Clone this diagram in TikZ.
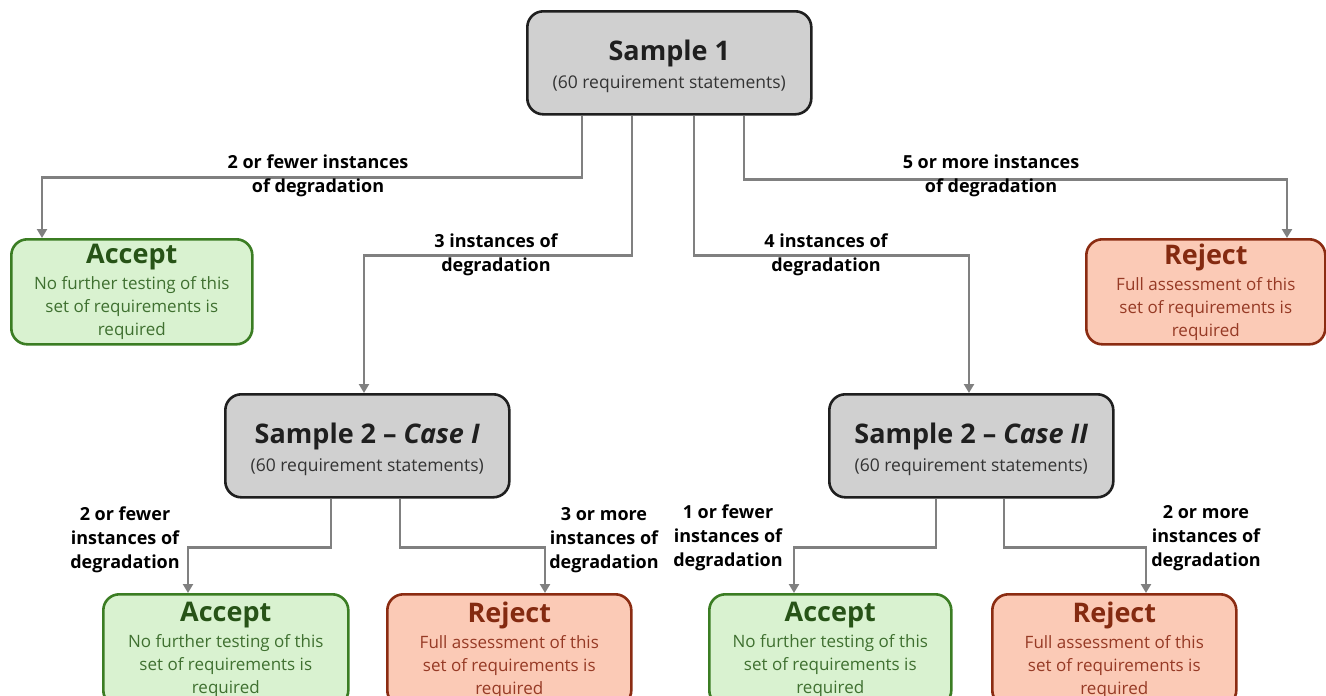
\documentclass[tikz,border=0pt]{standalone}
\usepackage{fontspec}
\setmainfont{Open Sans}
\usetikzlibrary{arrows.meta}
\definecolor{gfill}{HTML}{D0D0D0}
\definecolor{gdraw}{HTML}{1F1F1F}
\definecolor{gtext}{HTML}{333333}
\definecolor{afill}{HTML}{D9F2D0}
\definecolor{adraw}{HTML}{3B7D23}
\definecolor{atitle}{HTML}{275317}
\definecolor{atext}{HTML}{3F7030}
\definecolor{rfill}{HTML}{FBCAB6}
\definecolor{rdraw}{HTML}{8B2C12}
\definecolor{rtitle}{HTML}{842A10}
\definecolor{rtext}{HTML}{963A25}
\definecolor{conn}{HTML}{808080}
\tikzset{
  boxbase/.style={rectangle, rounded corners=16pt, line width=2.6pt, inner sep=0pt, align=center, anchor=north west, font=\fontsize{17}{23}\selectfont},
  graybox/.style={boxbase, fill=gfill, draw=gdraw, text=gtext, minimum width=284pt, minimum height=103pt, font=\fontsize{17.5}{23}\selectfont},
  accbox/.style={boxbase, fill=afill, draw=adraw, text=atext, minimum width=241pt, minimum height=105pt},
  rejbox/.style={boxbase, fill=rfill, draw=rdraw, text=rtext, minimum width=241pt, minimum height=105pt},
  arr/.style={draw=conn, line width=2.8pt, -{Triangle[length=9pt,width=10pt]}},
  lbl/.style={align=center, font=\fontsize{18}{24}\selectfont\bfseries, inner sep=0pt}
}
\newcommand{\mygrayt}[1]{\strut\\[-17pt]{\fontsize{27}{28}\selectfont\bfseries\color{gdraw}#1}\\[5pt](60 requirement statements)}
\newcommand{\myacctxt}{{\fontsize{27}{26}\selectfont\bfseries\color{atitle}Accept}\\[3pt]No further testing of this\\ set of requirements is\\ required}
\newcommand{\myrejtxt}{{\fontsize{27}{26}\selectfont\bfseries\color{rtitle}Reject}\\[3pt]Full assessment of this\\ set of requirements is\\ required}
\begin{document}
\begin{tikzpicture}[x=1pt,y=1pt]
\useasboundingbox (0,0) rectangle (1326,-696);
\node[graybox] (s1) at (526,-10) {\mygrayt{Sample 1}};
\node[accbox] (acc1) at (10,-238) {\myacctxt};
\node[rejbox, minimum width=239pt] (rej1) at (1085,-238) {\myrejtxt};
\node[graybox] (s2a) at (224,-393) {\mygrayt{Sample 2 -- \textit{Case I}}};
\node[graybox] (s2b) at (828,-393) {\mygrayt{Sample 2 -- \textit{Case II}}};
\node[accbox, minimum width=245pt, minimum height=112pt] (acc2) at (102,-593) {\myacctxt};
\node[rejbox, minimum width=244pt, minimum height=112pt] (rej2) at (386,-593) {\myrejtxt};
\node[accbox, minimum width=242pt, minimum height=112pt] (acc3) at (708,-593) {\myacctxt};
\node[rejbox, minimum width=244pt, minimum height=112pt] (rej3) at (991,-593) {\myrejtxt};
% connectors
\draw[arr] ([xshift=56pt]s1.south west) -- ++(0,-62) -| ([xshift=32pt]acc1.north west);
\draw[arr] ([xshift=106pt]s1.south west) -- ++(0,-140) -| ([xshift=140pt]s2a.north west);
\draw[arr] ([xshift=168pt]s1.south west) -- ++(0,-140) -| ([xshift=141pt]s2b.north west);
\draw[arr] ([xshift=218pt]s1.south west) -- ++(0,-64) -| ([xshift=202pt]rej1.north west);
\draw[arr] ([xshift=107pt]s2a.south west) -- ++(0,-49) -| ([xshift=86pt]acc2.north west);
\draw[arr] ([xshift=176pt]s2a.south west) -- ++(0,-49) -| ([xshift=159pt]rej2.north west);
\draw[arr] ([xshift=108pt]s2b.south west) -- ++(0,-49) -| ([xshift=86pt]acc3.north west);
\draw[arr] ([xshift=176pt]s2b.south west) -- ++(0,-49) -| ([xshift=155pt]rej3.north west);
% labels
\node[lbl] (l1) at (318,-176) {2 or fewer instances\\of degradation};
\node[lbl] (l2) at (496,-255) {3 instances of\\degradation};
\node[lbl] (l3) at (826,-255) {4 instances of\\degradation};
\node[lbl] (l4) at (991,-176) {5 or more instances\\of degradation};
\node[lbl] (l5) at (125,-540) {2 or fewer\\instances of\\degradation};
\node[lbl] (l6) at (604,-540) {3 or more\\instances of\\degradation};
\node[lbl] (l7) at (728,-538) {1 or fewer\\instances of\\degradation};
\node[lbl] (l8) at (1206,-538) {2 or more\\instances of\\degradation};
\end{tikzpicture}
\end{document}
